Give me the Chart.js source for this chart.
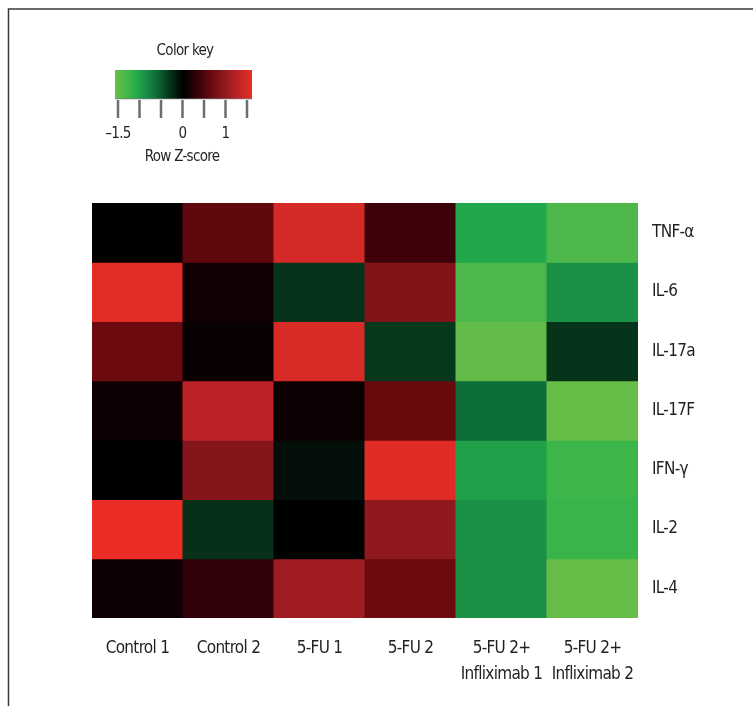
<!DOCTYPE html>
<html>
<head>
<meta charset="utf-8">
<script src="https://cdn.jsdelivr.net/npm/chart.js@4.4.0/dist/chart.umd.min.js"></script>
<style>
  html, body { margin: 0; padding: 0; background: #fff; }
  #wrap { position: relative; width: 753px; height: 706px; }
  canvas { display: block; }
</style>
</head>
<body>
<div id="wrap"><canvas id="heatmap" width="753" height="706"></canvas></div>
<script>
// 열(샘플) 이름
const samples = ['Control 1', 'Control 2', '5-FU 1', '5-FU 2', ['5-FU 2+', 'Infliximab 1'], ['5-FU 2+', 'Infliximab 2']];
// 행(사이토카인) 이름
const cytokines = ['TNF-α', 'IL-6', 'IL-17a', 'IL-17F', 'IFN-γ', 'IL-2', 'IL-4'];

// 행별 Z-score (그림의 색으로 추정한 값)
const tnfA  = [0.02, 0.55, 1.35, 0.35, -1.00, -1.30];
const il6   = [1.45, 0.10, -0.30, 0.80, -1.30, -0.85];
const il17a = [0.62, 0.05, 1.38, -0.32, -1.45, -0.30];
const il17f = [0.08, 1.18, 0.07, 0.60, -0.60, -1.50];
const ifnG  = [0.00, 0.82, -0.08, 1.44, -0.95, -1.20];
const il2   = [1.50, -0.28, -0.01, 0.90, -0.85, -1.18];
const il4   = [0.08, 0.28, 1.00, 0.62, -0.85, -1.50];
const zRows = [tnfA, il6, il17a, il17f, ifnG, il2, il4];

// 컬러 키 눈금
const keyTicks = [-1.5, -1, -0.5, 0, 0.5, 1, 1.5];
const keyLabels = ['\u20131.5', '', '', '0', '', '1', ''];

// 녹색-검정-빨강 팔레트 (인쇄된 색에 맞춘 정지점)
const paletteStops = [
  [-1.5, [104, 188, 72]],
  [-1.35, [85, 185, 72]],
  [-1.2, [60, 181, 74]],
  [-1.0, [33, 168, 74]],
  [-0.9, [30, 152, 72]],
  [-0.6, [13, 110, 58]],
  [-0.3, [6, 52, 26]],
  [0, [0, 0, 0]],
  [0.3, [52, 0, 9]],
  [0.6, [104, 9, 14]],
  [0.9, [143, 25, 30]],
  [1.2, [190, 35, 39]],
  [1.5, [234, 46, 37]]
];

function zColor(z) {
  if (z <= paletteStops[0][0]) return 'rgb(' + paletteStops[0][1].join(',') + ')';
  for (let i = 1; i < paletteStops.length; i++) {
    const [v1, c1] = paletteStops[i];
    const [v0, c0] = paletteStops[i - 1];
    if (z <= v1) {
      const t = (z - v0) / (v1 - v0);
      const c = c0.map((a, k) => Math.round(a + (c1[k] - a) * t));
      return 'rgb(' + c.join(',') + ')';
    }
  }
  return 'rgb(' + paletteStops[paletteStops.length - 1][1].join(',') + ')';
}

const fontFamily = '"Liberation Sans Narrow", "DejaVu Sans Condensed", "Noto Sans", sans-serif';
const textColor = '#231f20';

// 테두리 + 컬러 키 그리는 플러그인
const decorPlugin = {
  id: 'decor',
  beforeDraw(chart) {
    const ctx = chart.ctx;
    ctx.save();
    ctx.strokeStyle = '#3a3a3a';
    ctx.lineWidth = 1.5;
    ctx.beginPath();
    ctx.moveTo(753, 9);
    ctx.lineTo(8.5, 9);
    ctx.lineTo(8.5, 706);
    ctx.stroke();
    ctx.restore();
    // 글자 간격 살짝 좁히기 (원본은 좁은 글꼴)
    ctx.letterSpacing = '-0.7px';
  },
  afterDraw(chart) {
    const ctx = chart.ctx;
    const barL = 115, barR = 252, barT = 70, barB = 99;
    const tickL = 118, tickR = 247;
    const kMin = keyTicks[0], kMax = keyTicks[keyTicks.length - 1];
    ctx.save();
    // 그라데이션 막대
    const grad = ctx.createLinearGradient(barL, 0, barR, 0);
    for (let i = 0; i <= 30; i++) {
      const v = kMin + (kMax - kMin) * i / 30;
      grad.addColorStop(i / 30, zColor(v));
    }
    ctx.fillStyle = grad;
    ctx.fillRect(barL, barT, barR - barL, barB - barT);
    ctx.fillStyle = 'rgba(120,120,120,0.5)';
    ctx.fillRect(barL, barB - 1, barR - barL, 1.5);
    // 눈금
    ctx.strokeStyle = '#6d6e71';
    ctx.lineWidth = 2.5;
    ctx.font = '15px ' + fontFamily;
    ctx.fillStyle = textColor;
    ctx.textAlign = 'center';
    ctx.textBaseline = 'middle';
    keyTicks.forEach((v, i) => {
      const x = tickL + (tickR - tickL) * (v - kMin) / (kMax - kMin);
      ctx.beginPath();
      ctx.moveTo(x, barB + 1);
      ctx.lineTo(x, 118);
      ctx.stroke();
      if (keyLabels[i]) ctx.fillText(keyLabels[i], x, 134);
    });
    ctx.fillText('Color key', 185, 51);
    ctx.fillText('Row Z-score', 182, 157);
    ctx.restore();
  }
};

const datasets = cytokines.map((name, r) => ({
  label: name,
  data: samples.map(() => 1),
  backgroundColor: zRows[r].map(zColor),
  borderWidth: 0,
  inflateAmount: 0.5,
  categoryPercentage: 1,
  barPercentage: 1,
  xAxisID: 'x',
  yAxisID: 'y'
}));

new Chart(document.getElementById('heatmap'), {
  type: 'bar',
  data: { labels: samples, datasets: datasets },
  plugins: [decorPlugin],
  options: {
    responsive: false,
    animation: false,
    layout: { padding: { top: 203, left: 92, right: 0, bottom: 0 } },
    plugins: { legend: { display: false }, tooltip: { enabled: false } },
    scales: {
      x: {
        stacked: true,
        grid: { display: false, drawTicks: false },
        border: { display: false },
        ticks: {
          padding: 18, autoSkip: false, maxRotation: 0, minRotation: 0,
          color: textColor, font: { family: fontFamily, size: 17, lineHeight: 1.5 }
        },
        afterFit(scale) { scale.height = 88; }
      },
      y: {
        stacked: true,
        min: 0,
        max: cytokines.length,
        reverse: true,
        display: false
      },
      y2: {
        type: 'category',
        labels: cytokines,
        position: 'right',
        offset: true,
        grid: { display: false, drawTicks: false },
        border: { display: false },
        ticks: { padding: 14, autoSkip: false, color: textColor, font: { family: fontFamily, size: 17 } },
        afterFit(scale) { scale.width = 115; }
      }
    }
  }
});
</script>
</body>
</html>
